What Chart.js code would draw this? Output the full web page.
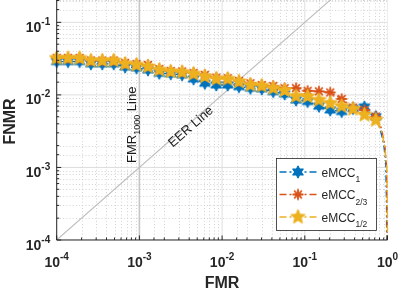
<!DOCTYPE html>
<html lang="en">
<head>
  <meta charset="UTF-8" />
  <title>DET - eMCC</title>
  <script src="https://cdn.jsdelivr.net/npm/chart.js"></script>
  <style>
    html, body { margin: 0; padding: 0; background: #fff; }
    #wrap { width: 399px; height: 291px; }
  </style>
</head>
<body>
  <div id="wrap"><canvas id="det" width="399" height="291"></canvas></div>

  <script>
    // FMR of the marked samples (shared by the three curves)
    const fmr = [1.00e-4, 1.37e-4, 1.89e-4, 2.59e-4, 3.56e-4, 4.89e-4, 6.71e-4, 9.22e-4,
                 1.27e-3, 1.74e-3, 2.39e-3, 3.28e-3, 4.51e-3, 6.19e-3, 8.50e-3, 1.17e-2,
                 1.60e-2, 2.20e-2, 3.02e-2, 4.15e-2, 5.70e-2, 7.83e-2, 0.108, 0.148,
                 0.203, 0.279, 0.383, 0.526, 0.722];
    const fnmr1  = [0.0288, 0.0288, 0.0288, 0.0268, 0.0268, 0.0268, 0.0243, 0.0236,
                    0.0221, 0.0199, 0.0195, 0.0189, 0.0166, 0.0145, 0.0137, 0.0137,
                    0.0130, 0.0124, 0.0121, 0.0111, 0.0103, 0.0085, 0.0081, 0.0070,
                    0.0062, 0.0059, 0.0065, 0.0068, 0.0050];
    const fnmr23 = [0.0324, 0.0324, 0.0324, 0.0299, 0.0299, 0.0299, 0.0276, 0.0268,
                    0.0259, 0.0228, 0.0214, 0.0211, 0.0201, 0.0189, 0.0173, 0.0170,
                    0.0156, 0.0145, 0.0137, 0.0133, 0.0124, 0.0124, 0.0114, 0.0112,
                    0.0108, 0.0088, 0.0067, 0.0062, 0.0050];
    const fnmr12 = [0.0321, 0.0321, 0.0321, 0.0297, 0.0297, 0.0297, 0.0268, 0.0259,
                    0.0245, 0.0221, 0.0210, 0.0206, 0.0195, 0.0179, 0.0166, 0.0166,
                    0.0153, 0.0137, 0.0133, 0.0124, 0.0115, 0.0096, 0.0095, 0.0085,
                    0.0077, 0.0070, 0.0064, 0.0053, 0.0045];

    // unmarked tail of each curve, falling off near FMR = 1
    const tailFmr1   = [0.82, 0.90, 0.95, 0.975, 0.98];
    const tailFnmr1  = [0.0033, 0.0021, 0.0012, 0.0003, 1e-5];
    const tailFmr23  = [0.84, 0.93, 0.975, 0.99, 0.993];
    const tailFnmr23 = [0.0035, 0.0020, 0.0010, 0.0002, 1e-5];
    const tailFmr12  = [0.85, 0.93, 0.985, 0.998, 0.999];
    const tailFnmr12 = [0.0031, 0.0019, 0.0009, 0.0002, 1e-5];

    // reference lines
    const eerLine = [1e-4, 1];
    const fmr1000 = 1e-3;

    const xTicks = [1e-4, 1e-3, 1e-2, 1e-1, 1];
    const xTickExp = ['-4', '-3', '-2', '-1', '0'];
    const yTicks = [1e-4, 1e-3, 1e-2, 1e-1];
    const yTickExp = ['-4', '-3', '-2', '-1'];

    const seriesBase = ['eMCC', 'eMCC', 'eMCC'];
    const seriesSub = ['1', '2/3', '1/2'];
    const colors = ['#0072BD', '#D95319', '#EDB120'];

    const FONT = '"Liberation Sans", Arial, Helvetica, sans-serif';
    const INK = '#262626';

    function star(n, rOut, rIn, fill) {
      const s = Math.ceil(rOut * 2 + 3);
      const c = document.createElement('canvas');
      c.width = c.height = s;
      const g = c.getContext('2d');
      g.translate(s / 2, s / 2);
      g.beginPath();
      for (let k = 0; k < 2 * n; k++) {
        const r = k % 2 ? rIn : rOut;
        const a = -Math.PI / 2 + k * Math.PI / n;
        g.lineTo(r * Math.cos(a), r * Math.sin(a));
      }
      g.closePath();
      g.fillStyle = fill;
      g.fill();
      g.strokeStyle = fill;
      g.lineWidth = 1;
      g.stroke();
      return c;
    }

    function asterisk(r, color) {
      const s = Math.ceil(r * 2 + 4);
      const c = document.createElement('canvas');
      c.width = c.height = s;
      const g = c.getContext('2d');
      g.translate(s / 2, s / 2);
      g.strokeStyle = color;
      g.lineWidth = 1.8;
      g.lineCap = 'round';
      for (let k = 0; k < 4; k++) {
        const a = k * Math.PI / 4;
        g.beginPath();
        g.moveTo(-r * Math.cos(a), -r * Math.sin(a));
        g.lineTo(r * Math.cos(a), r * Math.sin(a));
        g.stroke();
      }
      g.fillStyle = color;
      g.beginPath();
      g.arc(0, 0, 2.2, 0, Math.PI * 2);
      g.fill();
      return c;
    }

    const markers = [
      star(6, 6.2, 3.4, colors[0]),
      asterisk(4.8, colors[1]),
      star(5, 7.6, 3.4, colors[2])
    ];

    function curve(xs, ys, tx, ty) {
      const pts = xs.map((x, i) => ({ x: x, y: ys[i] }));
      return pts.concat(tx.map((x, i) => ({ x: x, y: ty[i] })));
    }
    const radii = fmr.map(() => 6).concat(tailFmr1.map(() => 0));

    const dashDot = [7, 3, 2, 3];
    const curveClip = { left: 9, top: 9, right: 9, bottom: 0 };

    function curveSet(i, data, order) {
      return {
        label: seriesBase[i] + seriesSub[i],
        data: data,
        borderColor: colors[i],
        backgroundColor: colors[i],
        borderWidth: 1.4,
        borderDash: dashDot,
        pointStyle: markers[i],
        pointRadius: radii,
        pointHoverRadius: radii,
        tension: 0,
        clip: curveClip,
        order: order
      };
    }

    // text with a raised or lowered smaller part
    function scriptText(ctx, x, y, base, script, baseFont, scriptFont, dy) {
      ctx.font = baseFont;
      const wb = ctx.measureText(base).width;
      ctx.fillText(base, x, y);
      ctx.font = scriptFont;
      ctx.fillText(script, x + wb, y + dy);
      return wb + ctx.measureText(script).width;
    }
    function scriptWidth(ctx, base, script, baseFont, scriptFont) {
      ctx.font = baseFont;
      const a = ctx.measureText(base).width;
      ctx.font = scriptFont;
      return a + ctx.measureText(script).width;
    }

    const isDecade = v => Math.abs(Math.log10(v) - Math.round(Math.log10(v))) < 1e-6;

    const decor = {
      id: 'decor',
      beforeDatasetsDraw(chart) {
        const { ctx, chartArea: a, scales: { x, y } } = chart;
        ctx.save();
        ctx.beginPath();
        ctx.rect(a.left, a.top, a.right - a.left, a.bottom - a.top);
        ctx.clip();
        // minor grid, dotted
        ctx.strokeStyle = '#c8c8c8';
        ctx.lineWidth = 0.8;
        ctx.setLineDash([1, 2.2]);
        x.ticks.forEach(t => {
          if (isDecade(t.value)) return;
          const p = Math.round(x.getPixelForValue(t.value)) + 0.5;
          ctx.beginPath(); ctx.moveTo(p, a.top); ctx.lineTo(p, a.bottom); ctx.stroke();
        });
        y.ticks.forEach(t => {
          if (isDecade(t.value)) return;
          const p = Math.round(y.getPixelForValue(t.value)) + 0.5;
          ctx.beginPath(); ctx.moveTo(a.left, p); ctx.lineTo(a.right, p); ctx.stroke();
        });
        // major grid, solid
        ctx.setLineDash([]);
        ctx.strokeStyle = '#dedede';
        ctx.lineWidth = 1;
        xTicks.forEach(v => {
          const p = x.getPixelForValue(v);
          ctx.beginPath(); ctx.moveTo(p, a.top); ctx.lineTo(p, a.bottom); ctx.stroke();
        });
        yTicks.forEach(v => {
          const p = y.getPixelForValue(v);
          ctx.beginPath(); ctx.moveTo(a.left, p); ctx.lineTo(a.right, p); ctx.stroke();
        });
        ctx.restore();
      },
      afterDatasetsDraw(chart) {
        const { ctx, chartArea: a, scales: { x, y } } = chart;
        ctx.save();
        // axis lines
        ctx.strokeStyle = INK;
        ctx.lineWidth = 1;
        ctx.beginPath();
        ctx.moveTo(a.left, a.top); ctx.lineTo(a.left, a.bottom); ctx.lineTo(a.right, a.bottom);
        ctx.stroke();
        // tick marks (inside)
        x.ticks.forEach(t => {
          const p = x.getPixelForValue(t.value);
          const len = isDecade(t.value) ? 4.5 : 2.5;
          ctx.beginPath(); ctx.moveTo(p, a.bottom); ctx.lineTo(p, a.bottom - len); ctx.stroke();
        });
        y.ticks.forEach(t => {
          const p = y.getPixelForValue(t.value);
          const len = isDecade(t.value) ? 4.5 : 2.5;
          ctx.beginPath(); ctx.moveTo(a.left, p); ctx.lineTo(a.left + len, p); ctx.stroke();
        });

        // tick labels 10^n
        const big = 'bold 14px ' + FONT, small = 'bold 10px ' + FONT;
        ctx.fillStyle = INK;
        ctx.textAlign = 'left';
        ctx.textBaseline = 'alphabetic';
        xTicks.forEach((v, i) => {
          const p = x.getPixelForValue(v);
          const w = scriptWidth(ctx, '10', xTickExp[i], big, small);
          scriptText(ctx, p - w / 2, a.bottom + 26.5, '10', xTickExp[i], big, small, -7);
        });
        yTicks.forEach((v, i) => {
          const p = y.getPixelForValue(v);
          const w = scriptWidth(ctx, '10', yTickExp[i], big, small);
          scriptText(ctx, a.left - 6.5 - w, p + 9.5, '10', yTickExp[i], big, small, -7);
        });

        // axis titles
        ctx.font = 'bold 16px ' + FONT;
        ctx.textAlign = 'center';
        ctx.fillText('FMR', (a.left + a.right) / 2, 287.5);
        ctx.save();
        ctx.translate(15, 121.5);
        ctx.rotate(-Math.PI / 2);
        ctx.fillText('FNMR', 0, 0);
        ctx.restore();

        // FMR1000 label along the vertical line
        ctx.textAlign = 'left';
        ctx.fillStyle = '#1a1a1a';
        const xl = x.getPixelForValue(fmr1000);
        ctx.save();
        ctx.translate(xl - 3, 163);
        ctx.rotate(-Math.PI / 2);
        const wf = scriptText(ctx, 0, 0, 'FMR', '1000', '13px ' + FONT, '9px ' + FONT, 3.5);
        ctx.font = '13px ' + FONT;
        ctx.fillText(' Line', wf, 0);
        ctx.restore();

        // EER label along the diagonal
        const x0 = x.getPixelForValue(eerLine[0]), y0 = y.getPixelForValue(eerLine[0]);
        const x1 = x.getPixelForValue(eerLine[1]), y1 = y.getPixelForValue(eerLine[1]);
        const ang = Math.atan2(y1 - y0, x1 - x0);
        ctx.save();
        ctx.translate(191, 127);
        ctx.rotate(ang);
        ctx.textAlign = 'center';
        ctx.textBaseline = 'middle';
        ctx.font = '13px ' + FONT;
        ctx.fillText('EER Line', 0, 0);
        ctx.restore();

        // legend
        const lx = 276.5, ly = 158.5, lw = 100, lh = 72;
        ctx.fillStyle = '#fff';
        ctx.fillRect(lx, ly, lw, lh);
        ctx.strokeStyle = INK;
        ctx.lineWidth = 0.8;
        ctx.strokeRect(lx, ly, lw, lh);
        const rowY = [172, 194.5, 217];
        ctx.textAlign = 'left';
        ctx.textBaseline = 'alphabetic';
        for (let i = 0; i < 3; i++) {
          const cy = rowY[i];
          ctx.strokeStyle = colors[i];
          ctx.lineWidth = 1.4;
          ctx.setLineDash(dashDot);
          ctx.beginPath(); ctx.moveTo(279.5, cy); ctx.lineTo(317, cy); ctx.stroke();
          ctx.setLineDash([]);
          const m = markers[i];
          ctx.drawImage(m, 298 - m.width / 2, cy - m.height / 2);
          ctx.fillStyle = INK;
          scriptText(ctx, 321.5, cy + 4.7, seriesBase[i], seriesSub[i],
                     '12px ' + FONT, '8.5px ' + FONT, 5.5);
        }
        ctx.restore();
      }
    };

    new Chart(document.getElementById('det'), {
      type: 'line',
      data: {
        datasets: [
          curveSet(2, curve(fmr, fnmr12, tailFmr12, tailFnmr12), 0),
          curveSet(1, curve(fmr, fnmr23, tailFmr23, tailFnmr23), 1),
          curveSet(0, curve(fmr, fnmr1, tailFmr1, tailFnmr1), 2),
          {
            label: 'EER Line',
            data: eerLine.map(v => ({ x: v, y: v })),
            borderColor: '#bdbdbd', borderWidth: 1.1, pointRadius: 0, order: 5
          },
          {
            label: 'FMR1000 Line',
            data: [{ x: fmr1000, y: 1e-4 }, { x: fmr1000, y: 1 }],
            borderColor: '#c6c6c6', borderWidth: 1.6, pointRadius: 0, order: 6
          }
        ]
      },
      options: {
        responsive: false,
        animation: false,
        events: [],
        layout: { autoPadding: false, padding: { left: 0, right: 11.5, top: 0, bottom: 0 } },
        plugins: { legend: { display: false }, tooltip: { enabled: false } },
        scales: {
          x: {
            type: 'logarithmic', min: 1e-4, max: 1,
            grid: { display: false }, border: { display: false },
            ticks: { display: false, autoSkip: false },
            afterFit(s) { s.height = 51; }
          },
          y: {
            type: 'logarithmic', min: 1e-4, max: 0.2033,
            grid: { display: false }, border: { display: false },
            ticks: { display: false, autoSkip: false },
            afterFit(s) { s.width = 56.7; }
          }
        }
      },
      plugins: [decor]
    });
  </script>
</body>
</html>
